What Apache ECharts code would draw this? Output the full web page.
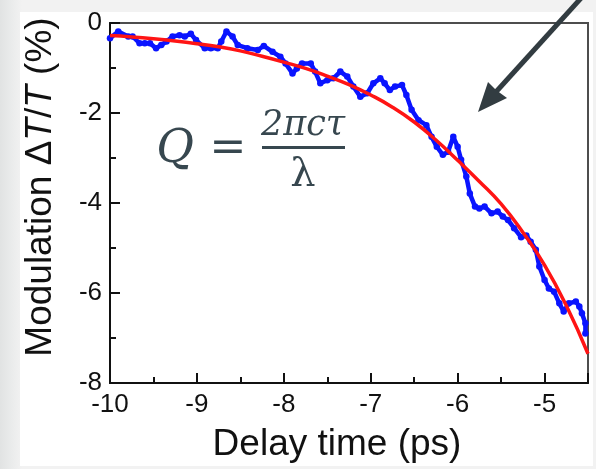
<!DOCTYPE html>
<html>
<head>
<meta charset="utf-8">
<script src="https://cdn.jsdelivr.net/npm/echarts@6/dist/echarts.min.js"></script>
<style>
  html, body { margin: 0; padding: 0; }
  body {
    width: 596px; height: 469px; overflow: hidden;
    background: linear-gradient(to right, #e1e3e3 0px, #eceded 14px, #f2f2f2 22px, #f2f2f2 100%);
  }
  #chart { width: 596px; height: 469px; }
</style>
</head>
<body>
<div id="chart"></div>
<script>
// Measured modulation trace (delay time in ps, modulation in %)
const measuredDelay = [
  -10.00, -9.905, -9.79, -9.74, -9.66, -9.60, -9.54, -9.47, -9.41, -9.35,
  -9.28, -9.20, -9.14, -9.07, -9.01, -8.91, -8.84, -8.76, -8.72, -8.66,
  -8.59, -8.53, -8.42, -8.30, -8.23, -8.13, -8.04, -7.98, -7.90, -7.85,
  -7.79, -7.69, -7.64, -7.58, -7.50, -7.43, -7.35, -7.27, -7.20, -7.12,
  -7.04, -6.97, -6.89, -6.84, -6.78, -6.72, -6.64, -6.59, -6.53, -6.45,
  -6.36, -6.30, -6.24, -6.17, -6.11, -6.05, -6.00, -5.96, -5.90, -5.86,
  -5.80, -5.75, -5.69, -5.61, -5.54, -5.48, -5.42, -5.35, -5.27, -5.21,
  -5.16, -5.10, -5.06, -5.00, -4.95, -4.89, -4.83, -4.78, -4.72, -4.64,
  -4.60, -4.57, -4.53, -4.53
];
const measuredMod = [
  -0.34, -0.19, -0.30, -0.30, -0.45, -0.45, -0.45, -0.56, -0.49, -0.41,
  -0.30, -0.27, -0.30, -0.24, -0.38, -0.56, -0.56, -0.56, -0.41, -0.19,
  -0.30, -0.49, -0.56, -0.60, -0.51, -0.64, -0.75, -0.90, -1.12, -1.01,
  -0.90, -0.90, -1.08, -1.34, -1.27, -1.23, -1.08, -1.19, -1.41, -1.64,
  -1.56, -1.34, -1.23, -1.34, -1.49, -1.41, -1.38, -1.60, -1.93, -2.16,
  -2.27, -2.53, -2.75, -2.93, -2.86, -2.53, -2.75, -3.04, -3.41, -3.79,
  -4.08, -4.12, -4.08, -4.23, -4.19, -4.30, -4.38, -4.56, -4.76, -4.72,
  -4.86, -5.04, -5.41, -5.71, -5.90, -5.97, -6.23, -6.41, -6.23, -6.19,
  -6.30, -6.45, -6.67, -6.90
];

// Fitted decay curve
const fitDelay = [
  -10.00, -9.75, -9.50, -9.25, -9.00, -8.75, -8.50, -8.25, -8.00, -7.75,
  -7.50, -7.25, -7.00, -6.75, -6.50, -6.25, -6.00, -5.75, -5.50, -5.25,
  -5.00, -4.75, -4.50
];
const fitMod = [
  -0.28, -0.31, -0.35, -0.40, -0.46, -0.53, -0.62, -0.74, -0.87, -1.01,
  -1.18, -1.37, -1.60, -1.87, -2.20, -2.60, -3.05, -3.52, -4.02, -4.65,
  -5.38, -6.28, -7.35
];

// Axis ranges and ticks
const delayRange = [-10, -4.5];
const delayStep = 1;
const modRange = [-8, 0];
const modStep = 2;

const xTitle = 'Delay time (ps)';
const yTitle = 'Modulation \u0394{i|T}/{i|T} (%)';

const sans = '"Liberation Sans", Arial, sans-serif';
const serif = '"DejaVu Serif", "Liberation Serif", serif';
const inkColor = '#111111';
const formulaColor = '#37474f';

const zip = (xs, ys) => xs.map((x, i) => [x, ys[i]]);

const chart = echarts.init(document.getElementById('chart'), null, { renderer: 'canvas' });

chart.setOption({
  backgroundColor: 'transparent',
  animation: false,
  grid: {
    left: 110, top: 23, right: 8, bottom: 86,
    show: true, borderColor: '#4d4d4d', borderWidth: 2, backgroundColor: '#ffffff'
  },
  xAxis: {
    type: 'value',
    min: delayRange[0], max: delayRange[1], interval: delayStep,
    axisLine: { show: true, onZero: false, lineStyle: { color: '#111', width: 2 } },
    axisTick: { show: true, inside: true, length: 10, lineStyle: { color: '#111', width: 2 } },
    minorTick: { show: true, splitNumber: 2, length: 6, lineStyle: { color: '#111', width: 2 } },
    splitLine: { show: false },
    axisLabel: {
      showMaxLabel: false, margin: 9,
      fontFamily: sans, fontSize: 26, color: inkColor
    }
  },
  yAxis: {
    type: 'value',
    min: modRange[0], max: modRange[1], interval: modStep,
    axisLine: { show: true, onZero: false, lineStyle: { color: '#111', width: 2 } },
    axisTick: { show: true, inside: true, length: 10, lineStyle: { color: '#111', width: 2 } },
    minorTick: { show: true, splitNumber: 2, length: 6, lineStyle: { color: '#111', width: 2 } },
    splitLine: { show: false },
    axisLabel: {
      margin: 8,
      fontFamily: sans, fontSize: 26, color: inkColor
    }
  },
  series: [
    {
      name: 'measured',
      type: 'line',
      data: zip(measuredDelay, measuredMod),
      showSymbol: true,
      symbol: 'circle',
      symbolSize: 6.5,
      itemStyle: { color: '#0a14ff', borderWidth: 0 },
      lineStyle: { color: '#0a14ff', width: 4.5 },
      z: 2
    },
    {
      name: 'fit',
      type: 'line',
      data: zip(fitDelay, fitMod),
      smooth: true,
      showSymbol: false,
      lineStyle: { color: '#ff1414', width: 3.5 },
      z: 3
    }
  ],
  graphic: [
    // white panel behind the plot
    {
      type: 'rect', z: -10, silent: true,
      shape: { x: 20, y: 12, width: 573, height: 454 },
      style: { fill: '#ffffff' }
    },
    // axis titles
    {
      type: 'text', rotation: Math.PI / 2, x: 41, y: 187, z: 10,
      style: {
        text: yTitle, fontFamily: sans, fontSize: 37, fill: inkColor,
        align: 'center', verticalAlign: 'middle',
        rich: { i: { fontFamily: sans, fontSize: 37, fontStyle: 'italic', fill: inkColor } }
      }
    },
    {
      type: 'text', x: 337, y: 445, z: 10,
      style: {
        text: xTitle, fontFamily: sans, fontSize: 37, fill: inkColor,
        align: 'center', verticalAlign: 'middle'
      }
    },
    // quality factor formula
    {
      type: 'text', x: 175, y: 150, z: 10,
      style: { text: 'Q', fontFamily: serif, fontSize: 46, fontStyle: 'italic', fill: formulaColor, align: 'center', verticalAlign: 'middle' }
    },
    {
      type: 'text', x: 228, y: 150, z: 10,
      style: { text: '=', fontFamily: serif, fontSize: 44, fill: formulaColor, align: 'center', verticalAlign: 'middle' }
    },
    {
      type: 'text', x: 303, y: 126, z: 10,
      style: { text: '2\u03c0c\u03c4', fontFamily: serif, fontSize: 35, fontStyle: 'italic', fill: formulaColor, align: 'center', verticalAlign: 'middle' }
    },
    {
      type: 'rect', z: 10,
      shape: { x: 262, y: 146, width: 83, height: 3 },
      style: { fill: formulaColor }
    },
    {
      type: 'text', x: 303, y: 176, z: 10,
      style: { text: '\u03bb', fontFamily: serif, fontSize: 40, fill: formulaColor, align: 'center', verticalAlign: 'middle' }
    },
    // pointer arrow
    {
      type: 'line', z: 20,
      shape: { x1: 583, y1: -4, x2: 495, y2: 93 },
      style: { stroke: '#323c41', lineWidth: 5 }
    },
    {
      type: 'polygon', z: 20,
      shape: { points: [[478, 112], [488, 82], [496, 90], [507, 98]] },
      style: { fill: '#323c41' }
    }
  ]
});
</script>
</body>
</html>
